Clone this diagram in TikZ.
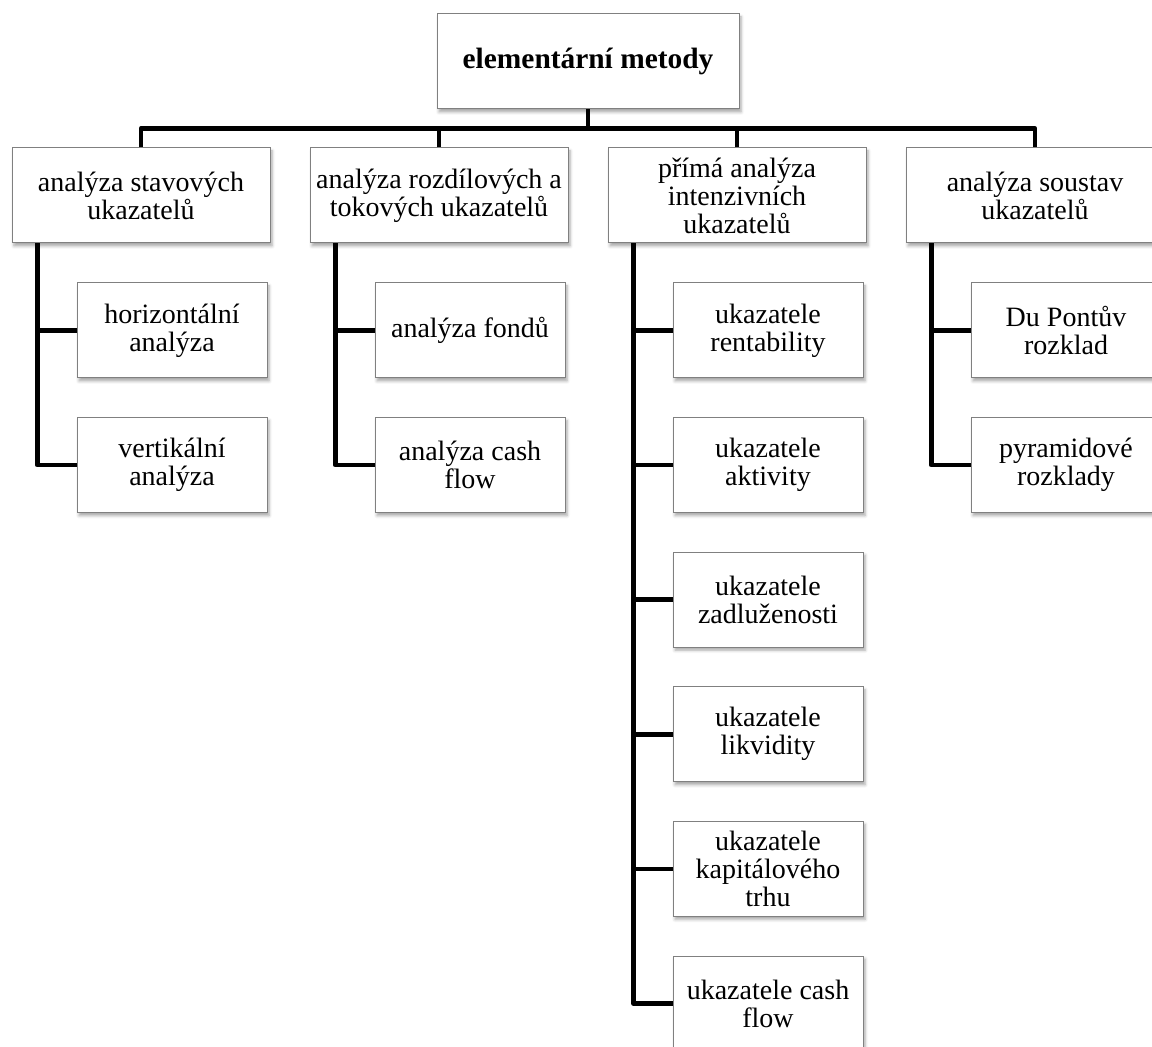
\documentclass[tikz,border=0pt]{standalone}
\usepackage{fontspec}
\setmainfont{Liberation Serif}
\usepackage{tikz}
\usetikzlibrary{shadows.blur}
\tikzset{box/.style={rectangle, draw=black!50, line width=0.5pt, fill=white,
      inner sep=2pt, align=center, font=\fontsize{14}{14}\selectfont,
      blur shadow={shadow xshift=1pt, shadow yshift=-1.5pt,
      shadow blur radius=1.5pt, shadow opacity=35}}}
\tikzset{rootbox/.style={box, minimum width=151pt, minimum height=47.5pt,
      font=\fontsize{14.7}{15}\selectfont\bfseries}}
\tikzset{groupbox/.style={box, minimum width=129pt, minimum height=47.5pt}}
\tikzset{itembox/.style={box, minimum width=95pt, minimum height=47.5pt}}
\tikzset{link/.style={line width=2.4pt, line join=round}}

\begin{document}
\begin{tikzpicture}[x=0.5pt,y=-0.5pt]
    \useasboundingbox (0,0) rectangle (1152,1047);
    \node[rootbox] (root) at (588,61.5) {elementární metody};
    \coordinate (bus) at (0,128.5);

    \node[groupbox] (stav) at (141,195.5) {analýza stavových\\ukazatelů};
    \node[groupbox] (rozd) at (439,195.5) {analýza rozdílových a\\tokových ukazatelů};
    \node[groupbox] (prim) at (737,195.5) {přímá analýza\\intenzivních\\ukazatelů};
    \node[groupbox] (soust) at (1035,195.5) {analýza soustav\\ukazatelů};

    \node[itembox] (stav1) at (172,330.5) {horizontální\\analýza};
    \node[itembox] (stav2) at (172,465.1) {vertikální\\analýza};
    \node[itembox] (rozd1) at (470,330.5) {analýza fondů};
    \node[itembox] (rozd2) at (470,465.1) {analýza cash\\flow};
    \node[itembox] (prim1) at (768,330.5) {ukazatele\\rentability};
    \node[itembox] (prim2) at (768,465.1) {ukazatele\\aktivity};
    \node[itembox] (prim3) at (768,599.7) {ukazatele\\zadluženosti};
    \node[itembox] (prim4) at (768,734.3) {ukazatele\\likvidity};
    \node[itembox] (prim5) at (768,868.9) {ukazatele\\kapitálového\\trhu};
    \node[itembox] (prim6) at (768,1003.5) {ukazatele cash\\flow};
    \node[itembox] (soust1) at (1066,330.5) {Du Pontův\\rozklad};
    \node[itembox] (soust2) at (1066,465.1) {pyramidové\\rozklady};

    \draw[link] (root.south) -- (root.south |- bus);
    \draw[link] (stav.north) -- (stav.north |- bus) -- (soust.north |- bus) -- (soust.north);
    \draw[link] (rozd.north) -- (rozd.north |- bus);
    \draw[link] (prim.north) -- (prim.north |- bus);

    \draw[link] (stav.south west) ++(26,0) |- (stav2.west);
    \draw[link] (stav1.west) -- ++(-39,0);
    \draw[link] (rozd.south west) ++(26,0) |- (rozd2.west);
    \draw[link] (rozd1.west) -- ++(-39,0);
    \draw[link] (prim.south west) ++(26,0) |- (prim6.west);
    \draw[link] (prim1.west) -- ++(-39,0);
    \draw[link] (prim2.west) -- ++(-39,0);
    \draw[link] (prim3.west) -- ++(-39,0);
    \draw[link] (prim4.west) -- ++(-39,0);
    \draw[link] (prim5.west) -- ++(-39,0);
    \draw[link] (soust.south west) ++(26,0) |- (soust2.west);
    \draw[link] (soust1.west) -- ++(-39,0);
\end{tikzpicture}
\end{document}
